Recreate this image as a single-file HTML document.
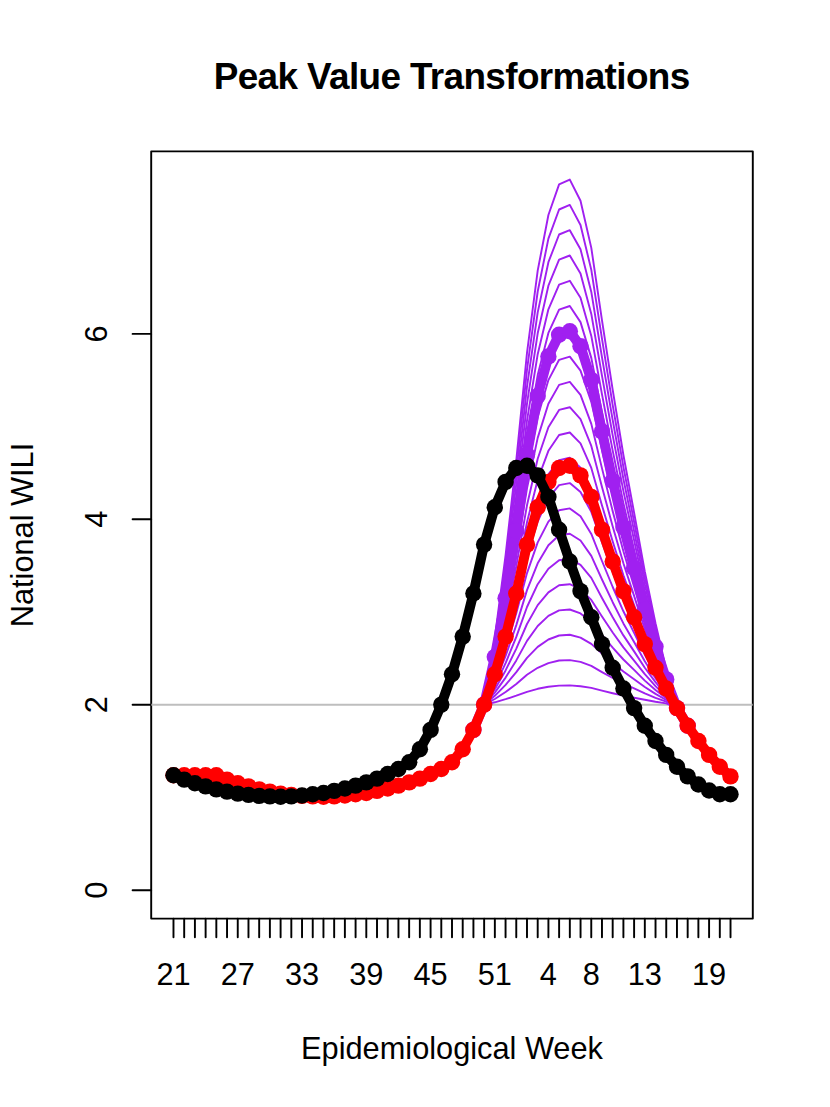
<!DOCTYPE html>
<html><head><meta charset="utf-8"><title>Peak Value Transformations</title>
<style>html,body{margin:0;padding:0;background:#fff}svg{display:block}text{font-family:"Liberation Sans",sans-serif;fill:#000}</style></head><body>
<svg width="830" height="1107" viewBox="0 0 830 1107">
<rect width="830" height="1107" fill="#fff"/>
<defs><clipPath id="c"><rect x="151.20" y="151.40" width="601.60" height="767.20"/></clipPath></defs>
<rect x="151.20" y="151.40" width="601.60" height="767.20" fill="none" stroke="#000" stroke-width="1.92" stroke-linejoin="round"/>
<path d="M173.48 918.60v18.6M184.19 918.60v18.6M194.91 918.60v18.6M205.62 918.60v18.6M216.33 918.60v18.6M227.04 918.60v18.6M237.75 918.60v18.6M248.47 918.60v18.6M259.18 918.60v18.6M269.89 918.60v18.6M280.60 918.60v18.6M291.32 918.60v18.6M302.03 918.60v18.6M312.74 918.60v18.6M323.45 918.60v18.6M334.17 918.60v18.6M344.88 918.60v18.6M355.59 918.60v18.6M366.30 918.60v18.6M377.01 918.60v18.6M387.73 918.60v18.6M398.44 918.60v18.6M409.15 918.60v18.6M419.86 918.60v18.6M430.58 918.60v18.6M441.29 918.60v18.6M452.00 918.60v18.6M462.71 918.60v18.6M473.42 918.60v18.6M484.14 918.60v18.6M494.85 918.60v18.6M505.56 918.60v18.6M516.27 918.60v18.6M526.99 918.60v18.6M537.70 918.60v18.6M548.41 918.60v18.6M559.12 918.60v18.6M569.83 918.60v18.6M580.55 918.60v18.6M591.26 918.60v18.6M601.97 918.60v18.6M612.68 918.60v18.6M623.40 918.60v18.6M634.11 918.60v18.6M644.82 918.60v18.6M655.53 918.60v18.6M666.25 918.60v18.6M676.96 918.60v18.6M687.67 918.60v18.6M698.38 918.60v18.6M709.09 918.60v18.6M719.81 918.60v18.6M730.52 918.60v18.6" stroke="#000" stroke-width="1.92" fill="none" stroke-linecap="round"/>
<path d="M151.20 890.20h-18.6M151.20 704.76h-18.6M151.20 519.32h-18.6M151.20 333.88h-18.6" stroke="#000" stroke-width="1.92" fill="none" stroke-linecap="round"/>
<g clip-path="url(#c)" fill="none" stroke-linejoin="round" stroke-linecap="round">
<line x1="151.2" y1="704.8" x2="752.8" y2="704.8" stroke="#BEBEBE" stroke-width="1.9" stroke-linecap="butt"/>
<polyline points="473.4,729.9 484.1,704.4 494.8,637.6 505.6,555.0 516.3,460.2 527.0,352.8 537.7,270.6 548.4,215.0 559.1,184.4 569.8,179.6 580.5,200.7 591.3,247.9 602.0,320.3 612.7,389.9 623.4,455.0 634.1,512.6 644.8,571.4 655.5,623.3 666.2,669.0 677.0,708.1 687.7,725.8" stroke="#A020F0" stroke-width="1.92"/>
<polyline points="473.4,729.9 484.1,704.4 494.8,640.8 505.6,562.2 516.3,472.0 527.0,369.7 537.7,291.5 548.4,238.6 559.1,209.5 569.8,204.9 580.5,225.0 591.3,269.9 602.0,338.8 612.7,405.1 623.4,467.0 634.1,521.8 644.8,577.9 655.5,627.2 666.2,670.7 677.0,708.1 687.7,725.8" stroke="#A020F0" stroke-width="1.92"/>
<polyline points="473.4,729.9 484.1,704.4 494.8,644.1 505.6,569.4 516.3,483.8 527.0,386.7 537.7,312.4 548.4,262.2 559.1,234.5 569.8,230.2 580.5,249.2 591.3,291.9 602.0,357.3 612.7,420.2 623.4,479.0 634.1,531.1 644.8,584.3 655.5,631.2 666.2,672.5 677.0,708.1 687.7,725.8" stroke="#A020F0" stroke-width="1.92"/>
<polyline points="473.4,729.9 484.1,704.5 494.8,647.3 505.6,576.6 516.3,495.6 527.0,403.6 537.7,333.3 548.4,285.7 559.1,259.6 569.8,255.5 580.5,273.5 591.3,313.9 602.0,375.8 612.7,435.4 623.4,491.1 634.1,540.3 644.8,590.7 655.5,635.1 666.2,674.2 677.0,708.1 687.7,725.8" stroke="#A020F0" stroke-width="1.92"/>
<polyline points="473.4,729.9 484.1,704.5 494.8,650.5 505.6,583.8 516.3,507.3 527.0,420.6 537.7,354.2 548.4,309.3 559.1,284.7 569.8,280.8 580.5,297.8 591.3,335.9 602.0,394.3 612.7,450.6 623.4,503.1 634.1,549.6 644.8,597.1 655.5,639.0 666.2,675.9 677.0,708.1 687.7,725.8" stroke="#A020F0" stroke-width="1.92"/>
<polyline points="473.4,729.9 484.1,704.5 494.8,653.8 505.6,591.0 516.3,519.1 527.0,437.5 537.7,375.1 548.4,332.9 559.1,309.7 569.8,306.0 580.5,322.1 591.3,357.9 602.0,412.8 612.7,465.7 623.4,515.1 634.1,558.8 644.8,603.5 655.5,642.9 666.2,677.6 677.0,708.1 687.7,725.8" stroke="#A020F0" stroke-width="1.92"/>
<polyline points="473.4,729.9 484.1,704.5 494.8,657.0 505.6,598.2 516.3,530.9 527.0,454.5 537.7,396.0 548.4,356.5 559.1,334.8 569.8,331.3 580.5,346.3 591.3,379.9 602.0,431.4 612.7,480.9 623.4,527.1 634.1,568.1 644.8,610.0 655.5,646.8 666.2,679.4 677.0,708.1 687.7,725.8" stroke="#A020F0" stroke-width="1.92"/>
<polyline points="473.4,729.9 484.1,704.5 494.8,660.2 505.6,605.5 516.3,542.7 527.0,471.4 537.7,416.9 548.4,380.1 559.1,359.8 569.8,356.6 580.5,370.6 591.3,401.9 602.0,449.9 612.7,496.1 623.4,539.2 634.1,577.3 644.8,616.4 655.5,650.8 666.2,681.1 677.0,708.1 687.7,725.8" stroke="#A020F0" stroke-width="1.92"/>
<polyline points="473.4,729.9 484.1,704.5 494.8,663.5 505.6,612.7 516.3,554.4 527.0,488.4 537.7,437.9 548.4,403.7 559.1,384.9 569.8,381.9 580.5,394.9 591.3,423.9 602.0,468.4 612.7,511.2 623.4,551.2 634.1,586.6 644.8,622.8 655.5,654.7 666.2,682.8 677.0,708.1 687.7,725.8" stroke="#A020F0" stroke-width="1.92"/>
<polyline points="473.4,729.9 484.1,704.6 494.8,666.7 505.6,619.9 516.3,566.2 527.0,505.3 537.7,458.8 548.4,427.3 559.1,409.9 569.8,407.2 580.5,419.2 591.3,445.9 602.0,486.9 612.7,526.4 623.4,563.2 634.1,595.9 644.8,629.2 655.5,658.6 666.2,684.5 677.0,708.1 687.7,725.8" stroke="#A020F0" stroke-width="1.92"/>
<polyline points="473.4,729.9 484.1,704.6 494.8,669.9 505.6,627.1 516.3,578.0 527.0,522.3 537.7,479.7 548.4,450.8 559.1,435.0 569.8,432.5 580.5,443.4 591.3,467.9 602.0,505.4 612.7,541.5 623.4,575.3 634.1,605.1 644.8,635.6 655.5,662.5 666.2,686.2 677.0,708.1 687.7,725.8" stroke="#A020F0" stroke-width="1.92"/>
<polyline points="473.4,729.9 484.1,704.6 494.8,673.2 505.6,634.3 516.3,589.8 527.0,539.2 537.7,500.6 548.4,474.4 559.1,460.1 569.8,457.8 580.5,467.7 591.3,489.9 602.0,523.9 612.7,556.7 623.4,587.3 634.1,614.4 644.8,642.1 655.5,666.5 666.2,688.0 677.0,708.1 687.7,725.8" stroke="#A020F0" stroke-width="1.92"/>
<polyline points="473.4,729.9 484.1,704.6 494.8,676.4 505.6,641.5 516.3,601.5 527.0,556.2 537.7,521.5 548.4,498.0 559.1,485.1 569.8,483.1 580.5,492.0 591.3,511.9 602.0,542.5 612.7,571.9 623.4,599.3 634.1,623.6 644.8,648.5 655.5,670.4 666.2,689.7 677.0,708.1 687.7,725.8" stroke="#A020F0" stroke-width="1.92"/>
<polyline points="473.4,729.9 484.1,704.6 494.8,679.6 505.6,648.7 516.3,613.3 527.0,573.1 537.7,542.4 548.4,521.6 559.1,510.2 569.8,508.4 580.5,516.3 591.3,533.9 602.0,561.0 612.7,587.0 623.4,611.3 634.1,632.9 644.8,654.9 655.5,674.3 666.2,691.4 677.0,708.1 687.7,725.8" stroke="#A020F0" stroke-width="1.92"/>
<polyline points="473.4,729.9 484.1,704.6 494.8,682.9 505.6,656.0 516.3,625.1 527.0,590.1 537.7,563.3 548.4,545.2 559.1,535.2 569.8,533.7 580.5,540.5 591.3,555.9 602.0,579.5 612.7,602.2 623.4,623.4 634.1,642.1 644.8,661.3 655.5,678.2 666.2,693.1 677.0,708.1 687.7,725.8" stroke="#A020F0" stroke-width="1.92"/>
<polyline points="473.4,729.9 484.1,704.7 494.8,686.1 505.6,663.2 516.3,636.9 527.0,607.0 537.7,584.2 548.4,568.8 559.1,560.3 569.8,558.9 580.5,564.8 591.3,577.9 602.0,598.0 612.7,617.3 623.4,635.4 634.1,651.4 644.8,667.7 655.5,682.1 666.2,694.8 677.0,708.1 687.7,725.8" stroke="#A020F0" stroke-width="1.92"/>
<polyline points="473.4,729.9 484.1,704.7 494.8,689.3 505.6,670.4 516.3,648.6 527.0,624.0 537.7,605.1 548.4,592.4 559.1,585.3 569.8,584.2 580.5,589.1 591.3,599.9 602.0,616.5 612.7,632.5 623.4,647.4 634.1,660.6 644.8,674.2 655.5,686.1 666.2,696.6 677.0,708.1 687.7,725.8" stroke="#A020F0" stroke-width="1.92"/>
<polyline points="473.4,729.9 484.1,704.7 494.8,692.6 505.6,677.6 516.3,660.4 527.0,640.9 537.7,626.0 548.4,615.9 559.1,610.4 569.8,609.5 580.5,613.4 591.3,621.9 602.0,635.0 612.7,647.7 623.4,659.5 634.1,669.9 644.8,680.6 655.5,690.0 666.2,698.3 677.0,708.1 687.7,725.8" stroke="#A020F0" stroke-width="1.92"/>
<polyline points="473.4,729.9 484.1,704.7 494.8,695.8 505.6,684.8 516.3,672.2 527.0,657.9 537.7,646.9 548.4,639.5 559.1,635.5 569.8,634.8 580.5,637.6 591.3,643.9 602.0,653.6 612.7,662.8 623.4,671.5 634.1,679.2 644.8,687.0 655.5,693.9 666.2,700.0 677.0,708.1 687.7,725.8" stroke="#A020F0" stroke-width="1.92"/>
<polyline points="473.4,729.9 484.1,704.7 494.8,699.0 505.6,692.0 516.3,684.0 527.0,674.8 537.7,667.8 548.4,663.1 559.1,660.5 569.8,660.1 580.5,661.9 591.3,665.9 602.0,672.1 612.7,678.0 623.4,683.5 634.1,688.4 644.8,693.4 655.5,697.8 666.2,701.7 677.0,708.1 687.7,725.8" stroke="#A020F0" stroke-width="1.92"/>
<polyline points="473.4,729.9 484.1,704.7 494.8,702.3 505.6,699.2 516.3,695.7 527.0,691.8 537.7,688.8 548.4,686.7 559.1,685.6 569.8,685.4 580.5,686.2 591.3,687.9 602.0,690.6 612.7,693.2 623.4,695.6 634.1,697.7 644.8,699.8 655.5,701.8 666.2,703.4 677.0,708.1 687.7,725.8" stroke="#A020F0" stroke-width="1.92"/>
<polyline points="473.4,729.9 484.1,704.5 494.8,657.0 505.6,598.2 516.3,530.9 527.0,454.5 537.7,396.0 548.4,356.5 559.1,334.8 569.8,331.3 580.5,346.3 591.3,379.9 602.0,431.4 612.7,480.9 623.4,527.1 634.1,568.1 644.8,610.0 655.5,646.8 666.2,679.4 677.0,708.1 687.7,725.8" stroke="#A020F0" stroke-width="9.9"/>
<circle cx="473.4" cy="729.9" r="8.2" fill="#A020F0"/><circle cx="484.1" cy="704.5" r="8.2" fill="#A020F0"/><circle cx="494.8" cy="657.0" r="8.2" fill="#A020F0"/><circle cx="505.6" cy="598.2" r="8.2" fill="#A020F0"/><circle cx="516.3" cy="530.9" r="8.2" fill="#A020F0"/><circle cx="527.0" cy="454.5" r="8.2" fill="#A020F0"/><circle cx="537.7" cy="396.0" r="8.2" fill="#A020F0"/><circle cx="548.4" cy="356.5" r="8.2" fill="#A020F0"/><circle cx="559.1" cy="334.8" r="8.2" fill="#A020F0"/><circle cx="569.8" cy="331.3" r="8.2" fill="#A020F0"/><circle cx="580.5" cy="346.3" r="8.2" fill="#A020F0"/><circle cx="591.3" cy="379.9" r="8.2" fill="#A020F0"/><circle cx="602.0" cy="431.4" r="8.2" fill="#A020F0"/><circle cx="612.7" cy="480.9" r="8.2" fill="#A020F0"/><circle cx="623.4" cy="527.1" r="8.2" fill="#A020F0"/><circle cx="634.1" cy="568.1" r="8.2" fill="#A020F0"/><circle cx="644.8" cy="610.0" r="8.2" fill="#A020F0"/><circle cx="655.5" cy="646.8" r="8.2" fill="#A020F0"/><circle cx="666.2" cy="679.4" r="8.2" fill="#A020F0"/><circle cx="677.0" cy="708.1" r="8.2" fill="#A020F0"/><circle cx="687.7" cy="725.8" r="8.2" fill="#A020F0"/>
<polyline points="173.5,775.3 184.2,775.3 194.9,775.3 205.6,775.3 216.3,775.3 227.0,779.6 237.8,783.3 248.5,786.4 259.2,789.4 269.9,791.6 280.6,793.6 291.3,794.9 302.0,795.9 312.7,796.4 323.5,796.7 334.2,796.4 344.9,795.5 355.6,794.3 366.3,793.0 377.0,790.9 387.7,788.5 398.4,785.6 409.2,782.4 419.9,778.6 430.6,774.0 441.3,769.0 452.0,762.2 462.7,749.2 473.4,729.9 484.1,704.6 494.8,674.2 505.6,636.6 516.3,593.5 527.0,544.6 537.7,507.2 548.4,481.9 559.1,468.0 569.8,465.8 580.5,475.4 591.3,496.9 602.0,529.8 612.7,561.5 623.4,591.1 634.1,617.3 644.8,644.1 655.5,667.7 666.2,688.5 677.0,708.1 687.7,725.8 698.4,741.0 709.1,754.9 719.8,766.7 730.5,776.4" stroke="#FF0000" stroke-width="9.9"/>
<circle cx="173.5" cy="775.3" r="8.2" fill="#FF0000"/><circle cx="184.2" cy="775.3" r="8.2" fill="#FF0000"/><circle cx="194.9" cy="775.3" r="8.2" fill="#FF0000"/><circle cx="205.6" cy="775.3" r="8.2" fill="#FF0000"/><circle cx="216.3" cy="775.3" r="8.2" fill="#FF0000"/><circle cx="227.0" cy="779.6" r="8.2" fill="#FF0000"/><circle cx="237.8" cy="783.3" r="8.2" fill="#FF0000"/><circle cx="248.5" cy="786.4" r="8.2" fill="#FF0000"/><circle cx="259.2" cy="789.4" r="8.2" fill="#FF0000"/><circle cx="269.9" cy="791.6" r="8.2" fill="#FF0000"/><circle cx="280.6" cy="793.6" r="8.2" fill="#FF0000"/><circle cx="291.3" cy="794.9" r="8.2" fill="#FF0000"/><circle cx="302.0" cy="795.9" r="8.2" fill="#FF0000"/><circle cx="312.7" cy="796.4" r="8.2" fill="#FF0000"/><circle cx="323.5" cy="796.7" r="8.2" fill="#FF0000"/><circle cx="334.2" cy="796.4" r="8.2" fill="#FF0000"/><circle cx="344.9" cy="795.5" r="8.2" fill="#FF0000"/><circle cx="355.6" cy="794.3" r="8.2" fill="#FF0000"/><circle cx="366.3" cy="793.0" r="8.2" fill="#FF0000"/><circle cx="377.0" cy="790.9" r="8.2" fill="#FF0000"/><circle cx="387.7" cy="788.5" r="8.2" fill="#FF0000"/><circle cx="398.4" cy="785.6" r="8.2" fill="#FF0000"/><circle cx="409.2" cy="782.4" r="8.2" fill="#FF0000"/><circle cx="419.9" cy="778.6" r="8.2" fill="#FF0000"/><circle cx="430.6" cy="774.0" r="8.2" fill="#FF0000"/><circle cx="441.3" cy="769.0" r="8.2" fill="#FF0000"/><circle cx="452.0" cy="762.2" r="8.2" fill="#FF0000"/><circle cx="462.7" cy="749.2" r="8.2" fill="#FF0000"/><circle cx="473.4" cy="729.9" r="8.2" fill="#FF0000"/><circle cx="484.1" cy="704.6" r="8.2" fill="#FF0000"/><circle cx="494.8" cy="674.2" r="8.2" fill="#FF0000"/><circle cx="505.6" cy="636.6" r="8.2" fill="#FF0000"/><circle cx="516.3" cy="593.5" r="8.2" fill="#FF0000"/><circle cx="527.0" cy="544.6" r="8.2" fill="#FF0000"/><circle cx="537.7" cy="507.2" r="8.2" fill="#FF0000"/><circle cx="548.4" cy="481.9" r="8.2" fill="#FF0000"/><circle cx="559.1" cy="468.0" r="8.2" fill="#FF0000"/><circle cx="569.8" cy="465.8" r="8.2" fill="#FF0000"/><circle cx="580.5" cy="475.4" r="8.2" fill="#FF0000"/><circle cx="591.3" cy="496.9" r="8.2" fill="#FF0000"/><circle cx="602.0" cy="529.8" r="8.2" fill="#FF0000"/><circle cx="612.7" cy="561.5" r="8.2" fill="#FF0000"/><circle cx="623.4" cy="591.1" r="8.2" fill="#FF0000"/><circle cx="634.1" cy="617.3" r="8.2" fill="#FF0000"/><circle cx="644.8" cy="644.1" r="8.2" fill="#FF0000"/><circle cx="655.5" cy="667.7" r="8.2" fill="#FF0000"/><circle cx="666.2" cy="688.5" r="8.2" fill="#FF0000"/><circle cx="677.0" cy="708.1" r="8.2" fill="#FF0000"/><circle cx="687.7" cy="725.8" r="8.2" fill="#FF0000"/><circle cx="698.4" cy="741.0" r="8.2" fill="#FF0000"/><circle cx="709.1" cy="754.9" r="8.2" fill="#FF0000"/><circle cx="719.8" cy="766.7" r="8.2" fill="#FF0000"/><circle cx="730.5" cy="776.4" r="8.2" fill="#FF0000"/>
<polyline points="173.5,775.3 184.2,779.6 194.9,783.3 205.6,786.4 216.3,789.4 227.0,791.6 237.8,793.6 248.5,794.9 259.2,795.9 269.9,796.4 280.6,796.7 291.3,796.4 302.0,795.5 312.7,794.3 323.5,793.0 334.2,790.9 344.9,788.5 355.6,785.6 366.3,782.4 377.0,778.6 387.7,774.0 398.4,769.0 409.2,762.2 419.9,749.2 430.6,729.9 441.3,704.6 452.0,674.2 462.7,636.6 473.4,593.5 484.1,544.6 494.8,507.2 505.6,481.9 516.3,468.0 527.0,465.8 537.7,475.4 548.4,496.9 559.1,529.8 569.8,561.5 580.5,591.1 591.3,617.3 602.0,644.1 612.7,667.7 623.4,688.5 634.1,708.1 644.8,725.8 655.5,741.0 666.2,754.9 677.0,766.7 687.7,776.4 698.4,784.5 709.1,790.5 719.8,794.3 730.5,794.3" stroke="#000" stroke-width="9.9"/>
<circle cx="173.5" cy="775.3" r="8.2" fill="#000"/><circle cx="184.2" cy="779.6" r="8.2" fill="#000"/><circle cx="194.9" cy="783.3" r="8.2" fill="#000"/><circle cx="205.6" cy="786.4" r="8.2" fill="#000"/><circle cx="216.3" cy="789.4" r="8.2" fill="#000"/><circle cx="227.0" cy="791.6" r="8.2" fill="#000"/><circle cx="237.8" cy="793.6" r="8.2" fill="#000"/><circle cx="248.5" cy="794.9" r="8.2" fill="#000"/><circle cx="259.2" cy="795.9" r="8.2" fill="#000"/><circle cx="269.9" cy="796.4" r="8.2" fill="#000"/><circle cx="280.6" cy="796.7" r="8.2" fill="#000"/><circle cx="291.3" cy="796.4" r="8.2" fill="#000"/><circle cx="302.0" cy="795.5" r="8.2" fill="#000"/><circle cx="312.7" cy="794.3" r="8.2" fill="#000"/><circle cx="323.5" cy="793.0" r="8.2" fill="#000"/><circle cx="334.2" cy="790.9" r="8.2" fill="#000"/><circle cx="344.9" cy="788.5" r="8.2" fill="#000"/><circle cx="355.6" cy="785.6" r="8.2" fill="#000"/><circle cx="366.3" cy="782.4" r="8.2" fill="#000"/><circle cx="377.0" cy="778.6" r="8.2" fill="#000"/><circle cx="387.7" cy="774.0" r="8.2" fill="#000"/><circle cx="398.4" cy="769.0" r="8.2" fill="#000"/><circle cx="409.2" cy="762.2" r="8.2" fill="#000"/><circle cx="419.9" cy="749.2" r="8.2" fill="#000"/><circle cx="430.6" cy="729.9" r="8.2" fill="#000"/><circle cx="441.3" cy="704.6" r="8.2" fill="#000"/><circle cx="452.0" cy="674.2" r="8.2" fill="#000"/><circle cx="462.7" cy="636.6" r="8.2" fill="#000"/><circle cx="473.4" cy="593.5" r="8.2" fill="#000"/><circle cx="484.1" cy="544.6" r="8.2" fill="#000"/><circle cx="494.8" cy="507.2" r="8.2" fill="#000"/><circle cx="505.6" cy="481.9" r="8.2" fill="#000"/><circle cx="516.3" cy="468.0" r="8.2" fill="#000"/><circle cx="527.0" cy="465.8" r="8.2" fill="#000"/><circle cx="537.7" cy="475.4" r="8.2" fill="#000"/><circle cx="548.4" cy="496.9" r="8.2" fill="#000"/><circle cx="559.1" cy="529.8" r="8.2" fill="#000"/><circle cx="569.8" cy="561.5" r="8.2" fill="#000"/><circle cx="580.5" cy="591.1" r="8.2" fill="#000"/><circle cx="591.3" cy="617.3" r="8.2" fill="#000"/><circle cx="602.0" cy="644.1" r="8.2" fill="#000"/><circle cx="612.7" cy="667.7" r="8.2" fill="#000"/><circle cx="623.4" cy="688.5" r="8.2" fill="#000"/><circle cx="634.1" cy="708.1" r="8.2" fill="#000"/><circle cx="644.8" cy="725.8" r="8.2" fill="#000"/><circle cx="655.5" cy="741.0" r="8.2" fill="#000"/><circle cx="666.2" cy="754.9" r="8.2" fill="#000"/><circle cx="677.0" cy="766.7" r="8.2" fill="#000"/><circle cx="687.7" cy="776.4" r="8.2" fill="#000"/><circle cx="698.4" cy="784.5" r="8.2" fill="#000"/><circle cx="709.1" cy="790.5" r="8.2" fill="#000"/><circle cx="719.8" cy="794.3" r="8.2" fill="#000"/><circle cx="730.5" cy="794.3" r="8.2" fill="#000"/>
</g>
<text x="173.5" y="985.0" font-size="30.74" text-anchor="middle">21</text>
<text x="237.8" y="985.0" font-size="30.74" text-anchor="middle">27</text>
<text x="302.0" y="985.0" font-size="30.74" text-anchor="middle">33</text>
<text x="366.3" y="985.0" font-size="30.74" text-anchor="middle">39</text>
<text x="430.6" y="985.0" font-size="30.74" text-anchor="middle">45</text>
<text x="494.8" y="985.0" font-size="30.74" text-anchor="middle">51</text>
<text x="548.4" y="985.0" font-size="30.74" text-anchor="middle">4</text>
<text x="591.3" y="985.0" font-size="30.74" text-anchor="middle">8</text>
<text x="644.8" y="985.0" font-size="30.74" text-anchor="middle">13</text>
<text x="709.1" y="985.0" font-size="30.74" text-anchor="middle">19</text>
<text transform="translate(106.8 890.2) rotate(-90)" font-size="30.74" text-anchor="middle">0</text>
<text transform="translate(106.8 704.8) rotate(-90)" font-size="30.74" text-anchor="middle">2</text>
<text transform="translate(106.8 519.3) rotate(-90)" font-size="30.74" text-anchor="middle">4</text>
<text transform="translate(106.8 333.9) rotate(-90)" font-size="30.74" text-anchor="middle">6</text>
<text x="452.0" y="1059.0" font-size="30.74" text-anchor="middle">Epidemiological Week</text>
<text transform="translate(32.9 535.0) rotate(-90)" font-size="30.74" text-anchor="middle">National WILI</text>
<text x="452.0" y="88.6" font-size="36.90" font-weight="bold" text-anchor="middle" textLength="476.5" lengthAdjust="spacing">Peak Value Transformations</text>
</svg></body></html>
